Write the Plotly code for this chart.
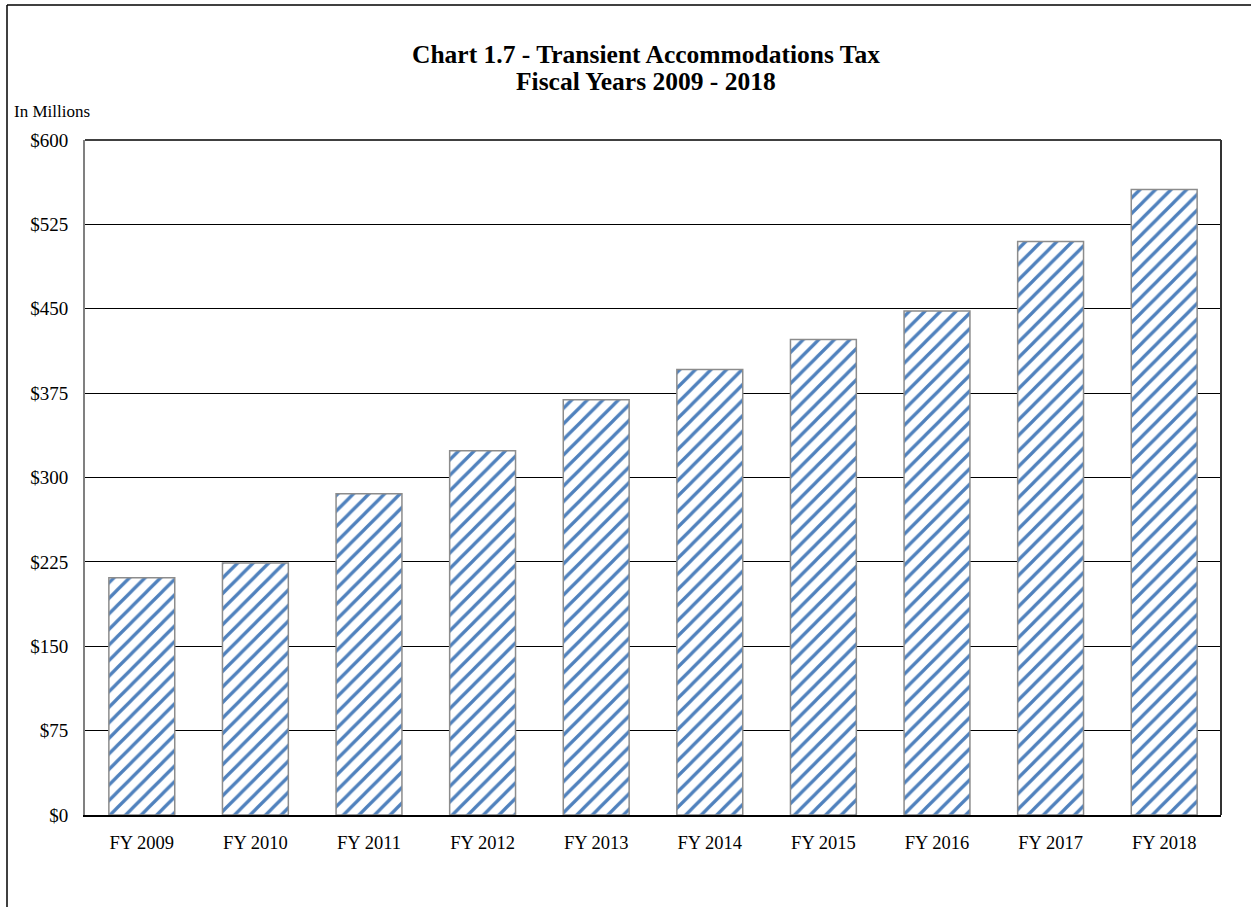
import plotly.graph_objects as go

categories = ["FY 2009", "FY 2010", "FY 2011", "FY 2012", "FY 2013",
              "FY 2014", "FY 2015", "FY 2016", "FY 2017", "FY 2018"]
values = [210.8, 223.9, 285.6, 323.8, 369.2, 395.9, 422.6, 448.0, 509.8, 556.0]
tick_vals = [0, 75, 150, 225, 300, 375, 450, 525, 600]
tick_text = ["$0", "$75", "$150", "$225", "$300", "$375", "$450", "$525", "$600"]

W, H = 1251, 907
L, R, T, B = 85, 30, 140, 92
pw, ph = W - L - R, H - T - B

fig = go.Figure()
fig.add_trace(go.Bar(
    x=categories, y=values,
    marker=dict(
        color="white",
        line=dict(color="#8c8c8c", width=1.5),
        pattern=dict(shape="/", fgcolor="#4F81BD", bgcolor="white",
                     size=11, solidity=0.3, fillmode="replace"),
    ),
    hoverinfo="x+y",
))

font = "Liberation Serif, Times New Roman, serif"
fig.update_layout(
    width=W, height=H,
    margin=dict(l=L, r=R, t=T, b=B),
    paper_bgcolor="white", plot_bgcolor="white",
    bargap=0.42,
    showlegend=False,
    font=dict(family=font, size=18, color="black"),
    xaxis=dict(showgrid=False, showline=True, linecolor="black", linewidth=2,
               ticks="", tickfont=dict(size=18.5), ticklabelstandoff=10,
               mirror=False),
    yaxis=dict(range=[0, 600], tickvals=tick_vals, ticktext=tick_text,
               showgrid=True, gridcolor="black", gridwidth=1,
               showline=True, linecolor="#808080", linewidth=2,
               ticks="", tickfont=dict(size=19), ticklabelstandoff=11,
               zeroline=False),
)

# plot area top & right border
fig.add_shape(type="line", xref="paper", yref="paper", x0=0, x1=1, y0=1, y1=1,
              line=dict(color="black", width=1.5))
fig.add_shape(type="line", xref="paper", yref="paper", x0=1, x1=1, y0=0, y1=1,
              line=dict(color="#333333", width=2))

def px_x(x): return (x - L) / pw
def px_y(y): return (H - B - y) / ph

# outer chart border (left and top)
fig.add_shape(type="line", xref="paper", yref="paper",
              x0=px_x(7), x1=px_x(7), y0=px_y(5), y1=px_y(910),
              line=dict(color="black", width=1.5))
fig.add_shape(type="line", xref="paper", yref="paper",
              x0=px_x(7), x1=px_x(1260), y0=px_y(5), y1=px_y(5),
              line=dict(color="black", width=1.5))

fig.add_annotation(text="<b>Chart 1.7 - Transient Accommodations Tax</b>",
                   xref="paper", yref="paper", x=px_x(646), y=px_y(55),
                   xanchor="center", yanchor="middle", showarrow=False,
                   font=dict(family=font, size=25.5, color="black"))
fig.add_annotation(text="<b>Fiscal Years 2009 - 2018</b>",
                   xref="paper", yref="paper", x=px_x(646), y=px_y(81),
                   xanchor="center", yanchor="middle", showarrow=False,
                   font=dict(family=font, size=25.5, color="black"))
fig.add_annotation(text="In Millions", xref="paper", yref="paper",
                   x=px_x(12), y=px_y(111), xanchor="left", yanchor="middle",
                   showarrow=False, font=dict(family=font, size=17, color="black"))

fig.write_html("out.html", config={"displayModeBar": False},
               post_script="document.body.style.margin='0';")
